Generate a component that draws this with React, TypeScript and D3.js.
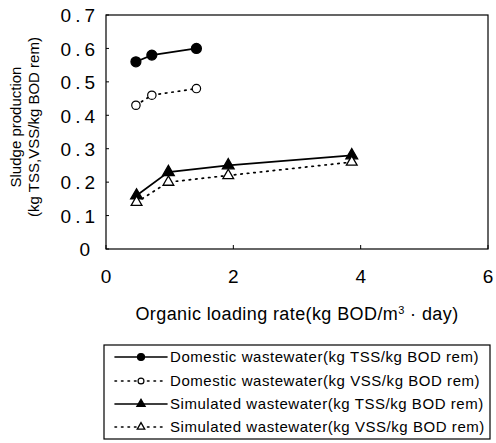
import React from "react";
import * as d3 from "d3";

const domX = [0.47, 0.72, 1.42];
const domTSS = [0.56, 0.58, 0.6];
const domVSS = [0.43, 0.46, 0.48];
const simX = [0.48, 0.98, 1.92, 3.86];
const simTSS = [0.16, 0.23, 0.25, 0.28];
const simVSS = [0.14, 0.2, 0.22, 0.26];
const xTicks = [0, 2, 4, 6];
const yTicks = [0, 0.1, 0.2, 0.3, 0.4, 0.5, 0.6, 0.7];
const legendLabels = [
  "Domestic wastewater(kg TSS/kg BOD rem)",
  "Domestic wastewater(kg VSS/kg BOD rem)",
  "Simulated wastewater(kg TSS/kg BOD rem)",
  "Simulated wastewater(kg VSS/kg BOD rem)",
];

type Series = { xs: number[]; ys: number[]; marker: string; filled: boolean; dotted: boolean };
const series: Series[] = [
  { xs: domX, ys: domTSS, marker: "circle", filled: true, dotted: false },
  { xs: domX, ys: domVSS, marker: "circle", filled: false, dotted: true },
  { xs: simX, ys: simTSS, marker: "triangle", filled: true, dotted: false },
  { xs: simX, ys: simVSS, marker: "triangle", filled: false, dotted: true },
];

const FONT = "Liberation Sans, Arial, sans-serif";

function Marker({ x, y, s, scale = 1 }: { x: number; y: number; s: Series; scale?: number }) {
  if (s.marker === "circle") {
    return (
      <circle
        cx={x}
        cy={y}
        r={(s.filled ? 5 : 4.2) * scale}
        fill={s.filled ? "#000" : "#fff"}
        stroke="#000"
        strokeWidth={1.2}
      />
    );
  }
  const sym = d3.symbol().type(d3.symbolTriangle).size((s.filled ? 60 : 50) * scale * scale)();
  return (
    <path
      d={sym || ""}
      transform={`translate(${x},${y})`}
      fill={s.filled ? "#000" : "#fff"}
      stroke="#000"
      strokeWidth={1.3}
    />
  );
}

export default function App() {
  const W = 496, H = 443;
  const x = d3.scaleLinear().domain([0, 6]).range([106, 488]);
  const y = d3.scaleLinear().domain([0, 0.7]).range([249, 15]);
  const line = d3.line<[number, number]>().x((d) => x(d[0])).y((d) => y(d[1]));

  const legX = 104, legY = 345, legW = 386, legH = 94;
  const rowY = [357, 381, 404, 427];
  const sampleX0 = 115, sampleX1 = 167, textX = 170;

  return (
    <svg width={W} height={H} style={{ position: "absolute", left: 0, top: 0, background: "#fff" }}>
      <rect x={0} y={0} width={W} height={H} fill="#fff" />
      {/* frame */}
      <rect x={x(0)} y={y(0.7)} width={x(6) - x(0)} height={y(0) - y(0.7)} fill="none" stroke="#000" strokeWidth={1.2} />
      {/* y ticks */}
      {yTicks.map((t) => (
        <g key={"y" + t}>
          <line x1={x(0)} x2={x(0) + 3} y1={y(t)} y2={y(t)} stroke="#000" strokeWidth={1} />
          <text
            x={t === 0 ? 94 : 99}
            y={y(t)}
            dy="0.38em"
            textAnchor="end"
            fontFamily={FONT}
            fontSize={19}
            letterSpacing={4}
            fill="#000"
          >
            {t === 0 ? "0" : t.toFixed(1)}
          </text>
        </g>
      ))}
      {/* x ticks */}
      {xTicks.map((t) => (
        <g key={"x" + t}>
          <line x1={x(t)} x2={x(t)} y1={y(0)} y2={y(0) - 4} stroke="#000" strokeWidth={1} />
          <text x={x(t)} y={283} textAnchor="middle" fontFamily={FONT} fontSize={19} fill="#000">
            {t}
          </text>
        </g>
      ))}
      {/* axis titles */}
      <text x={297} y={320} textAnchor="middle" fontFamily={FONT} fontSize={18} fill="#000" letterSpacing={0.4}>
        Organic loading rate(kg BOD/m
        <tspan dy={-6} fontSize={11}>3</tspan>
        <tspan dy={6}>{"  ·  day)"}</tspan>
      </text>
      <text
        transform="translate(21,127) rotate(-90)"
        textAnchor="middle"
        fontFamily={FONT}
        fontSize={15}
        fill="#000"
      >
        Sludge production
      </text>
      <text
        transform="translate(39,127) rotate(-90)"
        textAnchor="middle"
        fontFamily={FONT}
        fontSize={15}
        fill="#000"
      >
        (kg TSS,VSS/kg BOD rem)
      </text>
      {/* series */}
      {series.map((s, i) => {
        const pts = s.xs.map((v, j) => [v, s.ys[j]] as [number, number]);
        return (
          <g key={"s" + i}>
            <path
              d={line(pts) || ""}
              fill="none"
              stroke="#000"
              strokeWidth={1.7}
              strokeDasharray={s.dotted ? "1.5,5" : undefined}
              strokeLinecap="round"
            />
            {pts.map((p, j) => (
              <Marker key={j} x={x(p[0])} y={y(p[1])} s={s} />
            ))}
          </g>
        );
      })}
      {/* legend */}
      <rect x={legX} y={legY} width={legW} height={legH} fill="#fff" stroke="#000" strokeWidth={1.2} />
      {series.map((s, i) => (
        <g key={"l" + i}>
          <line
            x1={sampleX0}
            x2={sampleX1}
            y1={rowY[i]}
            y2={rowY[i]}
            stroke="#000"
            strokeWidth={1.6}
            strokeDasharray={s.dotted ? "1.5,5" : undefined}
            strokeLinecap="round"
          />
          <Marker x={(sampleX0 + sampleX1) / 2} y={rowY[i]} s={s} scale={0.7} />
          <text
            x={textX}
            y={rowY[i]}
            dy="0.36em"
            fontFamily={FONT}
            fontSize={15}
            letterSpacing={0.55}
            fill="#000"
          >
            {legendLabels[i]}
          </text>
        </g>
      ))}
    </svg>
  );
}
